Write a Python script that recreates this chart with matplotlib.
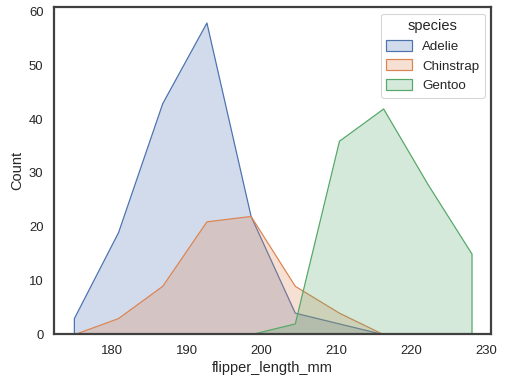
import numpy as np
import matplotlib.pyplot as plt
import seaborn as sns
from matplotlib.patches import Patch

# histogram of flipper length, 10 shared bins between 172 and 231
bin_edges = np.linspace(172, 231, 11)
species = ["Adelie", "Chinstrap", "Gentoo"]
adelie_counts = [3, 19, 43, 58, 22, 4, 2, 0, 0, 0]
chinstrap_counts = [0, 3, 9, 21, 22, 9, 4, 0, 0, 0]
gentoo_counts = [0, 0, 0, 0, 0, 2, 36, 42, 28, 15]

sns.set_theme(style="white")
plt.rcParams['font.family'] = ['Liberation Sans', 'DejaVu Sans']
colors = sns.color_palette()[:3]

fig, ax = plt.subplots(figsize=(505 / 80, 385 / 80), dpi=80)
centers = (bin_edges[:-1] + bin_edges[1:]) / 2

handles = []
for name, counts, color in zip(species, [adelie_counts, chinstrap_counts, gentoo_counts], colors):
    counts = np.array(counts)
    nz = np.nonzero(counts)[0]
    lo = max(nz[0] - 1, 0)
    hi = min(nz[-1] + 1, len(counts) - 1)
    if counts[lo] != 0:
        lo = nz[0]
    if counts[hi] != 0:
        hi = nz[-1]
    x = centers[lo:hi + 1]
    y = counts[lo:hi + 1]
    ax.fill_between(x, 0, y, facecolor=(*color, 0.25), edgecolor=color, linewidth=1.1)
    handles.append(Patch(facecolor=(*color, 0.25), edgecolor=color, linewidth=1.1, label=name))

for sp in ax.spines.values():
    sp.set_linewidth(2.0)
    sp.set_color("0.25")

ax.set_xlim(172.3, 230.7)
ax.set_ylim(0, 58 * 1.05)
ax.set_xticks([180, 190, 200, 210, 220, 230])
ax.set_yticks([0, 10, 20, 30, 40, 50, 60])
ax.tick_params(labelsize=11.8)
ax.set_xlabel("flipper_length_mm", fontsize=13.2)
ax.set_ylabel("Count", fontsize=13.2)
leg = ax.legend(handles=handles, title="species", loc="upper right", fontsize=12,
                title_fontsize=13.2, handlelength=1.9, handleheight=0.9)

fig.subplots_adjust(left=0.107, right=0.973, top=0.982, bottom=0.132)
fig.savefig("out.png")
